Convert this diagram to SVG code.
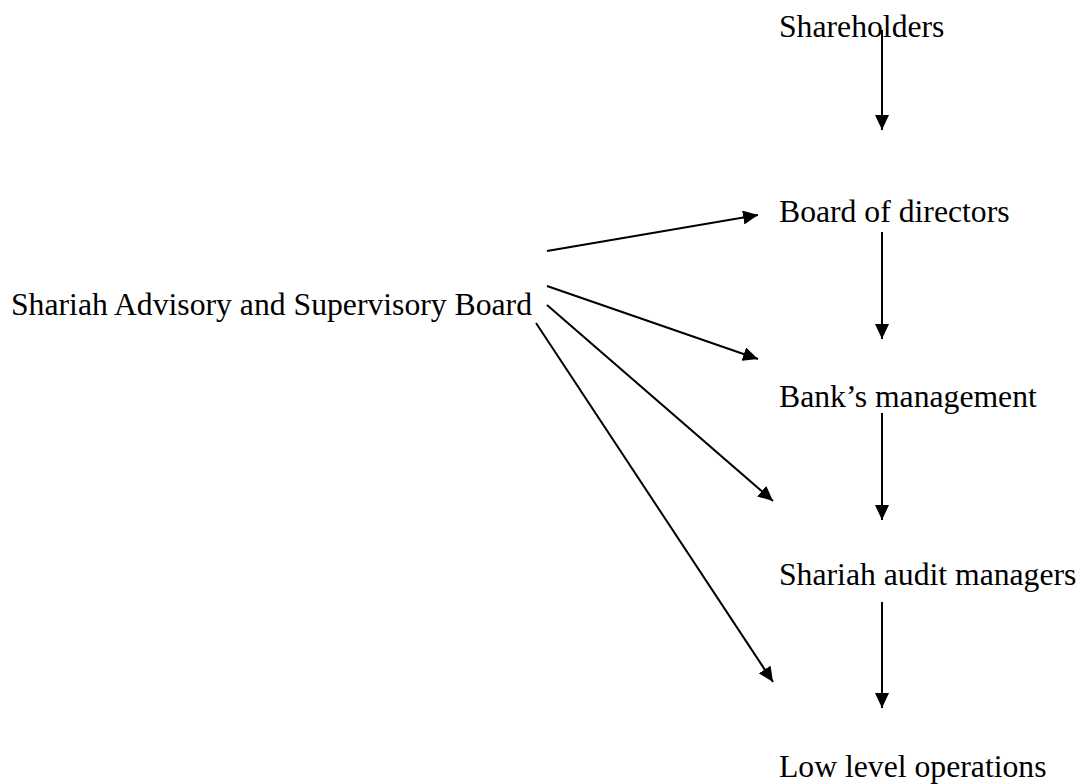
<svg xmlns="http://www.w3.org/2000/svg" width="1083" height="784" viewBox="0 0 1083 784">
<style>
text { font-family: "Liberation Serif", "Times New Roman", serif; font-size: 31.7px; fill: #000; }
.c { stroke: #000; stroke-width: 2; fill: none; marker-end: url(#ah); }
</style>
<defs>
<marker id="ah" markerUnits="userSpaceOnUse" markerWidth="16" markerHeight="14" refX="15" refY="7" orient="auto" viewBox="0 0 16 14">
<path d="M0,0 L15,7 L0,14 z" fill="#000"/>
</marker>
</defs>
<rect width="1083" height="784" fill="#fff"/>
<g id="connectors">
<line class="c" x1="882" y1="30" x2="882" y2="130"/>
<line class="c" x1="882" y1="232" x2="882" y2="339"/>
<line class="c" x1="882" y1="413" x2="882" y2="520"/>
<line class="c" x1="882" y1="602" x2="882" y2="708"/>
<line class="c" x1="547" y1="251" x2="758" y2="215"/>
<line class="c" x1="547" y1="286" x2="758" y2="359"/>
<line class="c" x1="547" y1="305" x2="773" y2="501"/>
<line class="c" x1="536" y1="323" x2="773" y2="682"/>
</g>
<g id="shareholders"><text x="779" y="37">Shareholders</text></g>
<g id="board"><text x="779" y="222">Board of directors</text></g>
<g id="management"><text x="779" y="407">Bank’s management</text></g>
<g id="audit"><text x="779" y="585">Shariah audit managers</text></g>
<g id="operations"><text x="779" y="777">Low level operations</text></g>
<g id="shariah-board"><text x="11" y="315">Shariah Advisory and Supervisory Board</text></g>
</svg>
